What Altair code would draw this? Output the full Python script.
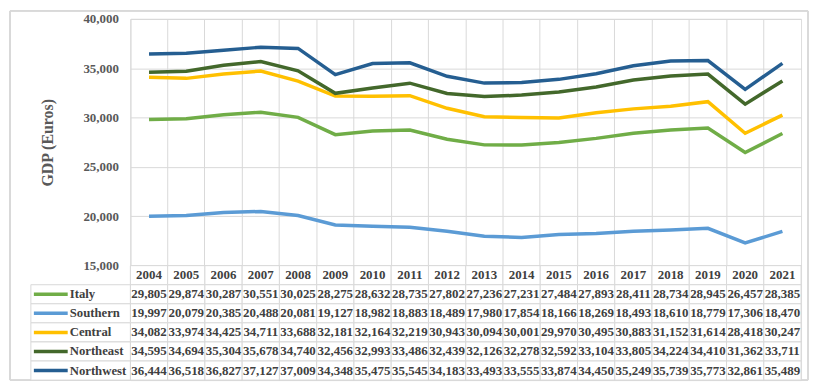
import altair as alt
import pandas as pd

years = [str(y) for y in range(2004, 2022)]
series_names = ["Italy", "Southern", "Central", "Northeast", "Northwest"]
series_colors = ["#70AD47", "#5B9BD5", "#FFC000", "#43682B", "#255E91"]

italy = [29805, 29874, 30287, 30551, 30025, 28275, 28632, 28735, 27802, 27236,
         27231, 27484, 27893, 28411, 28734, 28945, 26457, 28385]
southern = [19997, 20079, 20385, 20488, 20081, 19127, 18982, 18883, 18489, 17980,
            17854, 18166, 18269, 18493, 18610, 18779, 17306, 18470]
central = [34082, 33974, 34425, 34711, 33688, 32181, 32164, 32219, 30943, 30094,
           30001, 29970, 30495, 30883, 31152, 31614, 28418, 30247]
northeast = [34595, 34694, 35304, 35678, 34740, 32456, 32993, 33486, 32439, 32126,
             32278, 32592, 33104, 33805, 34224, 34410, 31362, 33711]
northwest = [36444, 36518, 36827, 37127, 37009, 34348, 35475, 35545, 34183, 33493,
             33555, 33874, 34450, 35249, 35739, 35773, 32861, 35489]

y_ticks = [15000, 20000, 25000, 30000, 35000, 40000]
y_title = "GDP (Euros)"

all_series = [italy, southern, central, northeast, northwest]

rows = []
for name, vals in zip(series_names, all_series):
    for yr, v in zip(years, vals):
        rows.append({"year": yr, "series": name, "value": v, "label": f"{v:,}"})
df = pd.DataFrame(rows)

hdr = pd.DataFrame({"year": years, "series": "hdr", "value": 0, "label": years})
table_df = pd.concat([hdr, df], ignore_index=True)
legend_df = pd.DataFrame({"series": series_names})

FONT = "Times New Roman, Liberation Serif, DejaVu Serif, serif"
GRID = "#D9D9D9"
TXT = "#404040"
W, H, TH = 674, 248, 115
row_order = ["hdr"] + series_names

xscale = alt.Scale(type="band", paddingInner=0, paddingOuter=0)
color = alt.Color("series:N", scale=alt.Scale(domain=series_names, range=series_colors), legend=None)

lines = alt.Chart(df).mark_line(strokeWidth=3.5).encode(
    x=alt.X("year:N", sort=years, scale=xscale, bandPosition=0.5,
            axis=alt.Axis(bandPosition=0, grid=True, gridColor=GRID, labels=False,
                          ticks=False, domain=False, title=None)),
    y=alt.Y("value:Q", scale=alt.Scale(domain=[15000, 40000], nice=False, zero=False),
            axis=alt.Axis(values=y_ticks, format=",.0f", title=y_title, grid=True,
                          gridColor=GRID, ticks=False, tickSize=0, domain=False,
                          labelPadding=12, labelFont=FONT, labelFontWeight="bold",
                          labelFontSize=13, labelColor="#595959",
                          titleFont=FONT, titleFontWeight="bold", titleFontSize=16,
                          titleColor="#595959", titlePadding=28)),
    color=color,
).properties(width=W, height=H)

xt = alt.X("year:N", sort=years, scale=xscale, axis=None)
yscale = alt.Scale(domain=row_order, paddingInner=0, paddingOuter=0)
yt = alt.Y("series:N", sort=row_order, scale=yscale, axis=None)
yc = alt.Y("series:N", sort=row_order, bandPosition=0.5, scale=yscale, axis=None)

border = alt.Chart(legend_df).mark_rect(fillOpacity=0, stroke=GRID, strokeWidth=1).encode(
    x=alt.value(-121), x2=alt.value(681), y=alt.value(-256), y2=alt.value(TH)
)
cells = alt.Chart(table_df).mark_rect(fill="white", stroke=GRID, strokeWidth=1).encode(x=xt, y=yt)
texts = alt.Chart(table_df).mark_text(font=FONT, fontWeight="bold", fontSize=13, color=TXT).encode(
    x=xt, y=yt, text="label:N"
)
leg_cells = alt.Chart(legend_df).mark_rect(fill="white", stroke=GRID, strokeWidth=1).encode(
    x=alt.value(-100), x2=alt.value(0), y=yt
)
leg_lines = alt.Chart(legend_df).mark_rule(strokeWidth=3.5).encode(
    x=alt.value(-97), x2=alt.value(-63), y=yc, color=color,
)
leg_text = alt.Chart(legend_df).mark_text(align="left", font=FONT, fontWeight="bold", fontSize=12.8, color=TXT).encode(
    x=alt.value(-61), y=yc, text="series:N",
)

table = alt.layer(border, cells, texts, leg_cells, leg_lines, leg_text).properties(width=W, height=TH)

chart = alt.vconcat(lines, table, spacing=0, bounds="flush").properties(
    padding={"left": 1, "top": 1, "right": 2, "bottom": 2}
).configure_view(stroke=GRID).configure(font=FONT, background="white")

chart.save("out.html", embed_options={"renderer": "svg", "actions": False})
